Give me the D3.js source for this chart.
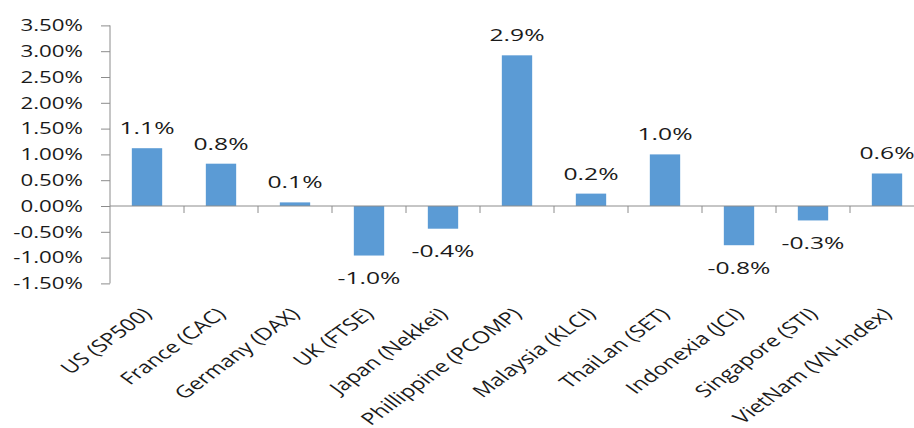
<!DOCTYPE html>
<html><head><meta charset="utf-8">
<script src="https://cdn.jsdelivr.net/npm/d3@7/dist/d3.min.js"></script>
<style>
html,body{margin:0;padding:0;background:#fff;}
svg{display:block;}
text{font-family:"Open Sans",sans-serif;fill:#1a1a1a;}
</style></head><body>
<svg id="c" width="914" height="428"></svg>
<script>
const categories = ["US (SP500)","France (CAC)","Germany (DAX)","UK (FTSE)","Japan (Nekkei)","Phillippine (PCOMP)","Malaysia (KLCI)","ThaiLan (SET)","Indonexia (JCI)","Singapore (STI)","VietNam (VN-Index)"];
const values = [1.12, 0.82, 0.07, -0.96, -0.44, 2.92, 0.24, 1.00, -0.76, -0.28, 0.63];
const tickValues = [-1.5,-1.0,-0.5,0,0.5,1.0,1.5,2.0,2.5,3.0,3.5];
const tickLabels = ["-1.50%","-1.00%","-0.50%","0.00%","0.50%","1.00%","1.50%","2.00%","2.50%","3.00%","3.50%"];

const SX = 1.45; // horizontal stretch of the text
const SXC = 1.37;
const barColor = "#5B9BD5";
const axisColor = "#8c8c8c";

const svg = d3.select("#c");
const x = d3.scaleBand().domain(categories).range([110, 924]).paddingInner(0).paddingOuter(0);
const y = d3.scaleLinear().domain([-1.5, 3.5]).range([283.4, 25.4]);
const barW = x.bandwidth() * 0.41;

// y axis
const yAxis = d3.axisLeft(y).tickValues(tickValues).tickSize(9)
  .tickFormat((d,i) => tickLabels[i]);
const gy = svg.append("g").attr("transform","translate(110,0)").call(yAxis);
gy.select(".domain").attr("stroke", axisColor).attr("d", `M0,${y(3.5)}V${y(-1.5)}`);
gy.selectAll(".tick line").attr("stroke", axisColor);
gy.selectAll(".tick text")
  .attr("x", -27/SX).attr("dy","0.35em")
  .attr("transform", `scale(${SX},1)`)
  .style("font-size","15.4px").style("font-family","'Open Sans',sans-serif").attr("fill","#1a1a1a");

// bars
svg.append("g").selectAll("rect").data(values).join("rect")
  .attr("x", (d,i) => x(categories[i]) + x.bandwidth()/2 - barW/2)
  .attr("width", barW)
  .attr("y", d => y(Math.max(0,d)))
  .attr("height", d => Math.abs(y(d) - y(0)))
  .attr("fill", barColor);

// x axis line (zero)
svg.append("line").attr("x1",110).attr("x2",924).attr("y1",y(0)).attr("y2",y(0))
  .attr("stroke",axisColor).attr("stroke-width",1);
// boundary ticks
svg.append("g").selectAll("line").data(categories).join("line")
  .attr("x1", d => x(d) + x.step()).attr("x2", d => x(d) + x.step())
  .attr("y1", y(0)).attr("y2", y(0) + 7)
  .attr("stroke", axisColor);

// data labels
const fmt = d3.format(".1f");
svg.append("g").selectAll("text").data(values).join("text")
  .attr("transform", (d,i) => {
    const cx = x(categories[i]) + x.bandwidth()/2;
    const cy = d >= 0 ? y(d) - 20 : y(d) + 22.5;
    return `translate(${cx},${cy}) scale(${SX},1)`;
  })
  .attr("text-anchor","middle").attr("dy","0.35em")
  .style("font-size","17px")
  .text(d => fmt(d).replace("\u2212","-") + "%");

// category labels
svg.append("g").selectAll("text").data(categories).join("text")
  .attr("transform", d => `translate(${x(d) + x.bandwidth()/2},${311}) scale(${SXC},1) rotate(-45)`)
  .attr("text-anchor","end").attr("dy","0.35em")
  .style("font-size","17px")
  .text(d => d);
</script>
</body></html>
